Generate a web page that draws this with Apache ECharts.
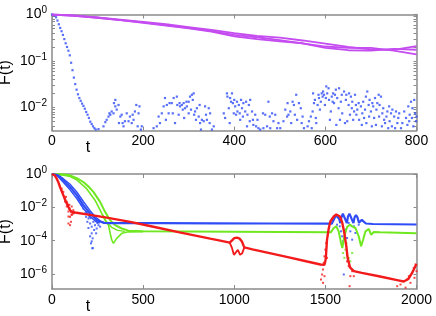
<!DOCTYPE html>
<html><head><meta charset="utf-8">
<script src="https://cdn.jsdelivr.net/npm/echarts@6/dist/echarts.min.js"></script>
<style>html,body{margin:0;padding:0;background:#fff}#c{width:436px;height:316px}</style>
</head><body><div id="c"></div>
<script>
// All values are log10 F(t).
// ---------- top panel ----------
const topXTicks = [0, 200, 400, 600, 800];
const topYTicks = [0, -1, -2];
const magT = [0, 50, 100, 150, 200, 250, 300, 350, 400, 450, 500, 550, 600, 650, 700, 750, 800];
const magA = [0, -0.02, -0.06, -0.11, -0.16, -0.21, -0.27, -0.33, -0.40, -0.46, -0.50, -0.56, -0.63, -0.70, -0.75, -0.76, -0.68];
const magB = [0, -0.03, -0.07, -0.12, -0.17, -0.23, -0.29, -0.36, -0.44, -0.49, -0.55, -0.62, -0.69, -0.72, -0.72, -0.78, -0.86];
const magC = [0, -0.03, -0.07, -0.12, -0.18, -0.24, -0.30, -0.37, -0.47, -0.53, -0.58, -0.62, -0.72, -0.77, -0.78, -0.74, -0.76];
const blueDecayTop = [[0,0],[3,-0.01],[6,-0.02],[9,-0.06],[12,-0.13],[15,-0.21],[18,-0.29],[21,-0.36],[24,-0.44],[27,-0.53],[30,-0.62],[33,-0.70],[36,-0.78],[39,-0.88],[42,-1.04],[45,-1.2],[48,-1.36],[51,-1.5],[54,-1.62],[57,-1.72],[60,-1.8],[63,-1.86],[66,-1.92],[69,-1.97],[72,-2.03],[75,-2.1],[78,-2.16],[81,-2.23],[84,-2.31],[87,-2.36],[90,-2.41],[93,-2.45],[96,-2.48]];
const blueNoiseTop = [[102,-2.47],[113,-2.41],[117,-2.32],[120,-2.27],[124,-2.2],[126,-2.13],[128,-2.16],[131,-2.09],[135,-2.13],[136,-1.91],[139,-1.84],[139,-1.98],[142,-2.05],[146,-1.95],[147,-2.34],[150,-2.2],[153,-2.16],[155,-2.34],[157,-2.41],[160,-2.3],[164,-2.13],[168,-2.3],[171,-2.2],[175,-2.34],[177,-2.16],[179,-2.27],[182,-2.09],[185,-1.95],[188,-2.41],[190,-2.13],[192,-1.98],[195,-2.48],[197,-2.41],[223,-2.45],[230,-2.41],[234,-2.2],[237,-2.34],[241,-2.13],[245,-1.98],[248,-1.8],[250,-2.27],[252,-1.95],[256,-2.13],[258,-1.91],
[263,-1.91],[265,-2.13],[267,-1.80],[270,-2.34],[274,-1.77],[275,-1.95],[278,-2.16],[280,-1.91],[281,-1.98],[285,-1.95],[287,-2.05],[289,-1.91],[290,-2.23],[292,-2.02],[295,-1.88],[296,-1.98],[300,-1.88],[300,-2.13],[303,-1.77],[305,-2.05],[307,-1.73],[309,-1.84],[311,-1.70],[312,-2.16],[314,-2.09],[316,-2.27],[318,-2.02],[322,-2.2],[324,-1.95],[325,-2.34],[327,-2.48],[329,-2.27],[333,-2.30],[336,-1.98],[338,-2.16],[340,-2.27],[344,-2.02],[346,-2.34],[347,-2.13],[351,-2.48],[355,-2.41],
[377,-2.13],[380,-2.23],[384,-1.70],[385,-1.77],[388,-2.02],[390,-2.34],[391,-1.80],[393,-1.88],[395,-1.70],[397,-1.91],[399,-2.13],[400,-1.84],[402,-1.98],[404,-2.16],[406,-1.88],[407,-2.09],[410,-1.95],[412,-2.13],[413,-2.27],[415,-1.84],[417,-2.02],[419,-2.2],[420,-1.91],[424,-2.09],[426,-1.88],[428,-2.41],[429,-2.16],[432,-1.95],[434,-2.30],[435,-1.84],[439,-2.09],[441,-2.27],[442,-2.38],[446,-2.16],[448,-2.41],[451,-2.27],[453,-2.45],[457,-2.48],[463,-2.13],[464,-2.45],[468,-2.16],[472,-2.41],[475,-1.88],[478,-2.2],[479,-2.45],[483,-2.13],[486,-2.30],[490,-2.16],[494,-2.45],[497,-2.34],[501,-2.45],[508,-2.30],[512,-2.05],[516,-2.2],[517,-1.91],[519,-2.16],[523,-2.09],[525,-2.34],
[528,-1.88],[531,-1.95],[533,-2.16],[536,-1.73],[538,-2.27],[542,-1.91],[546,-2.02],[548,-2.34],[550,-2.2],[553,-2.45],[561,-2.41],[564,-2.3],[568,-2.2],[570,-2.45],[572,-2.09],[573,-1.70],[575,-1.91],[577,-1.84],[579,-2.23],[580,-2.34],[583,-1.95],[585,-1.73],[586,-1.80],[588,-2.05],[590,-1.88],[592,-1.70],[594,-1.77],[595,-1.66],[597,-1.73],[599,-1.95],[601,-1.80],[602,-1.55],[604,-1.70],[607,-1.59],[608,-1.84],[610,-2.27],[612,-2.09],[614,-1.77],[616,-1.88],[617,-1.70],[619,-1.91],[621,-1.73],[623,-1.62],[624,-2.38],[626,-1.80],[629,-2.02],[630,-1.59],[632,-2.27],[634,-1.88],[636,-1.73],[637,-2.13],[641,-1.66],[643,-2.34],[645,-1.84],[646,-1.73],[648,-2.30],[651,-1.95],[652,-1.70],[654,-2.16],[656,-1.77],[658,-2.02],[659,-1.88],[661,-2.27],[663,-2.09],[665,-1.73],[667,-1.95],[668,-2.16],[670,-2.05],[673,-1.91],[674,-2.27],[678,-1.98],[680,-2.38],[681,-2.13],[683,-1.88],[685,-2.23],[687,-2.05],[689,-1.77],[690,-2.34],[692,-1.66],[695,-1.95],[696,-2.2],[697,-1.84],[700,-2.09],[702,-2.41],[703,-1.91],[705,-1.98],[707,-2.23],[709,-1.80],[711,-2.38],[712,-2.05],[714,-1.91],[717,-1.73],[718,-2.2],[719,-1.95],[722,-1.77],[724,-2.41],[725,-2.13],[727,-2.02],[729,-2.27],[731,-2.34],[734,-2.2],[736,-2.09],[738,-2.45],[740,-1.98],[741,-2.30],[744,-2.13],[746,-2.41],[747,-2.05],[751,-2.2],[753,-2.45],[755,-2.09],[758,-2.34],[760,-2.23],[762,-2.13],[766,-2.45],[769,-2.34],[773,-2.09],[777,-2.23],[780,-2.38],[782,-1.98],[784,-2.30],[785,-2.16],[788,-1.88],[790,-2.23],[791,-2.02],[793,-2.41],[795,-1.84],[797,-2.13],[799,-2.30],[800,-2.2]];

// ---------- bottom panel ----------
const botXTicks = [0, 500, 1000, 1500, 2000];
const botYTicks = [0, -2, -4, -6];
const blueMain = [[0,0],[30,-0.08],[62,-0.38],[99,-0.78],[136,-1.27],[172,-1.87],[209,-2.37],[245,-2.77],[282,-2.93],[320,-2.95],[600,-2.95],[900,-2.96],[1200,-2.97],[1535,-2.98],[1548,-2.7],[1558,-2.48],[1566,-2.48],[1576,-2.7],[1582,-2.95],[1588,-2.6],[1596,-2.38],[1604,-2.45],[1612,-2.8],[1618,-2.95],[1624,-2.55],[1632,-2.38],[1640,-2.45],[1648,-2.8],[1654,-2.95],[1660,-2.6],[1668,-2.47],[1676,-2.6],[1684,-2.92],[1690,-2.8],[1700,-2.75],[1710,-2.82],[1722,-2.97],[1760,-3.0],[2000,-3.03]];
const blueEdgeHi = [[0,0],[30,-0.04],[62,-0.28],[99,-0.62],[136,-1.08],[172,-1.65],[209,-2.2],[245,-2.65],[270,-2.85],[295,-2.94]];
const blueEdgeLo = [[0,0],[30,-0.12],[62,-0.5],[99,-0.95],[136,-1.47],[172,-2.07],[209,-2.55],[240,-2.85],[262,-2.95]];
const blueDots = [[154,-1.57],[163,-1.87],[172,-2.07],[181,-2.37],[187,-2.57],[190,-2.27],[194,-2.87],[200,-2.67],[205,-2.57],[209,-2.97],[212,-2.65],[214,-4.16],[218,-3.16],[218,-3.56],[222,-4.46],[223,-3.86],[227,-2.87],[231,-3.36],[236,-3.07],[242,-3.56],[245,-3.27],[249,-2.94],[255,-3.07],[264,-3.16],[200,-3.24],[209,-3.74],[218,-4.04],[223,-4.44],
[1564,-3.04],[1579,-3.14],[1586,-3.44],[1592,-3.74],[1597,-4.04],[1601,-6.03],[1610,-3.34],[1619,-3.84],[1628,-2.94],[1637,-3.44],[1647,-3.94],[1656,-3.14],[1665,-3.54],[1683,-3.04]];
const greenMain = [[0,0],[50,-0.02],[99,-0.08],[136,-0.25],[172,-0.48],[200,-0.75],[227,-1.07],[264,-1.67],[291,-2.27],[319,-2.77],[346,-3.07],[383,-3.27],[420,-3.4],[500,-3.44],[1000,-3.47],[1530,-3.5],[1546,-3.24],[1560,-3.14],[1573,-3.44],[1586,-4.14],[1593,-4.44],[1604,-3.74],[1619,-3.18],[1634,-3.04],[1647,-3.14],[1665,-3.24],[1683,-3.74],[1696,-4.34],[1707,-3.94],[1720,-3.44],[1738,-3.3],[1751,-3.64],[1766,-3.48],[1800,-3.5],[2000,-3.55]];
const greenLow = [[0,0],[50,-0.05],[99,-0.15],[136,-0.35],[190,-0.88],[236,-1.57],[264,-2.17],[291,-2.77],[310,-3.07],[320,-3.6],[328,-3.96],[337,-4.16],[346,-4.05],[355,-3.86],[383,-3.56],[420,-3.47],[500,-3.46]];
const greenMid = [[280,-2.45],[295,-2.8],[310,-3.0],[330,-3.22],[360,-3.38],[400,-3.44]];
const greenDots = [[1597,-4.74],[1604,-5.03],[1610,-4.54],[1615,-4.14],[1619,-4.84],[1628,-5.03],[1637,-5.24],[1647,-4.74]];
const redMain = [[0,0],[15,-0.08],[26,-0.28],[35,-0.5],[44,-0.78],[53,-1.02],[62,-1.27],[71,-1.52],[81,-1.77],[90,-1.98],[99,-2.17],[110,-2.27],[126,-2.31],[209,-2.45],[300,-2.62],[429,-2.87],[550,-3.15],[700,-3.5],[868,-3.88],[923,-4.0],[975,-4.12],[988,-3.98],[1000,-3.85],[1015,-3.82],[1030,-3.88],[1042,-4.05],[1055,-4.4],[1100,-4.52],[1200,-4.76],[1300,-5.0],[1400,-5.25],[1473,-5.43],[1495,-5.45],[1502,-5.1],[1509,-3.94],[1518,-3.3],[1527,-2.85],[1546,-2.55],[1560,-2.43],[1568,-2.43],[1580,-2.55],[1592,-2.9],[1604,-3.54],[1615,-4.34],[1622,-5.03],[1635,-5.6],[1656,-5.83],[1700,-5.93],[1800,-6.15],[1900,-6.38],[1930,-6.45],[1955,-6.3],[1975,-5.95],[2000,-5.4]];
const redBubbleLow = [[975,-4.12],[988,-4.45],[998,-4.85],[1008,-4.75],[1020,-4.55],[1032,-4.85],[1044,-4.75],[1055,-4.4]];
const redDots = [[53,-0.88],[62,-1.07],[71,-1.47],[77,-1.37],[81,-1.67],[84,-1.77],[90,-1.87],[95,-2.07],[103,-2.27],[108,-2.43],[117,-2.17],[99,-2.57],[90,-2.97],[99,-3.07],[104,-2.87],[114,-2.37],[71,-1.65],[81,-1.95],[90,-2.25],[95,-1.85],[108,-1.95],[121,-2.35],[108,-2.45],[90,-2.55],
[1476,-6.33],[1482,-6.03],[1487,-5.73],[1491,-5.33],[1495,-4.94],[1500,-4.54],[1505,-4.14],[1495,-6.13],[1487,-6.53],[1509,-5.03],[1619,-5.24],[1628,-5.53],[1637,-6.13],[1633,-6.73],[1647,-5.83],[1656,-6.13],
[1894,-6.73],[1912,-6.63],[1930,-6.43],[1940,-6.82],[1949,-6.33],[1958,-6.13],[1967,-6.53],[1976,-5.93],[1985,-5.63],[1989,-6.23],[1995,-5.43],[2000,-5.83]];

const FONT = '"Liberation Sans", Arial, sans-serif';
const AX = '#8a8a8a';
const C_BLUE = '#2f4cf6', C_GREEN = '#6fe81f', C_RED = '#f21a1a', C_MAG = '#c44cf0';

function withMinor(major, minExp, maxExp) {
  const out = major.slice();
  for (let k = Math.floor(minExp); k < maxExp; k++)
    for (let m = 2; m <= 9; m++) { const v = k + Math.log10(m); if (v >= minExp && v <= maxExp) out.push(v); }
  return out;
}
function expLabel(v) {
  const n = Math.round(v);
  return '{b|10}{s|' + (n === 0 ? '0' : '\u2212' + Math.abs(n)) + '}';
}
const rich = {
  b: { fontSize: 14, fontFamily: FONT, color: '#000', lineHeight: 18 },
  s: { fontSize: 10, fontFamily: FONT, color: '#000', verticalAlign: 'top', lineHeight: 10 }
};
function xAx(grid, pos, max, interval, ticks, label) {
  return {
    type: 'value', gridIndex: grid, position: pos, min: 0, max: max, interval: interval,
    axisLine: { show: true, onZero: false, lineStyle: { color: AX, width: 1.5 } },
    axisTick: { show: true, inside: true, length: 4, customValues: ticks, lineStyle: { color: AX, width: 1 } },
    axisLabel: { show: label, customValues: ticks, margin: 4, fontSize: 14, fontFamily: FONT, color: '#000',
      formatter: v => String(v) },
    splitLine: { show: false }
  };
}
function yAx(grid, pos, min, ticks, labels, label, name) {
  const a = {
    type: 'value', gridIndex: grid, position: pos, min: min, max: 0,
    axisLine: { show: true, onZero: false, lineStyle: { color: AX, width: 1.5 } },
    axisTick: { show: true, inside: true, length: 3, customValues: ticks, lineStyle: { color: AX, width: 1 } },
    axisLabel: { show: label, customValues: labels, margin: 5, formatter: expLabel, rich: rich },
    splitLine: { show: false }
  };
  if (name) {
    a.name = name; a.nameLocation = 'middle'; a.nameGap = 38; a.nameMoveOverlap = false;
    a.nameTextStyle = { fontSize: 16, fontFamily: FONT, color: '#000' };
  }
  return a;
}
function line(xi, yi, data, color, w) {
  return { type: 'line', xAxisIndex: xi, yAxisIndex: yi, data: data, showSymbol: false, symbol: 'none',
    lineStyle: { color: color, width: w }, itemStyle: { color: color }, clip: true, silent: true };
}
function dots(xi, yi, data, color, size) {
  return { type: 'scatter', xAxisIndex: xi, yAxisIndex: yi, data: data, symbol: 'rect', symbolSize: size,
    itemStyle: { color: color }, clip: true, silent: true };
}

const topMin = -2.5, botMin = -6.9;
const topTicks = withMinor(topYTicks, topMin, 0);
const option = {
  animation: false,
  backgroundColor: '#fff',
  grid: [
    { left: 52, top: 14.5, width: 364.5, height: 116, outerBoundsMode: 'none' },
    { left: 52, top: 174, width: 364.5, height: 115, outerBoundsMode: 'none' }
  ],
  xAxis: [
    xAx(0, 'bottom', 800, 200, topXTicks, true),
    xAx(0, 'top', 800, 200, topXTicks, false),
    xAx(1, 'bottom', 2000, 500, botXTicks, true),
    xAx(1, 'top', 2000, 500, botXTicks, false)
  ],
  yAxis: [
    yAx(0, 'left', topMin, topTicks, topYTicks, true, 'F(t)'),
    yAx(0, 'right', topMin, topTicks, topYTicks, false),
    yAx(1, 'left', botMin, botYTicks, botYTicks, true, 'F(t)'),
    yAx(1, 'right', botMin, botYTicks, botYTicks, false)
  ],
  graphic: [
    { type: 'text', x: 88, y: 148, style: { text: 't', fontSize: 16, fontFamily: FONT, fill: '#000', align: 'center', verticalAlign: 'middle' } },
    { type: 'text', x: 88, y: 307, style: { text: 't', fontSize: 16, fontFamily: FONT, fill: '#000', align: 'center', verticalAlign: 'middle' } }
  ],
  series: [
    dots(0, 0, blueDecayTop, C_BLUE, 2.2),
    dots(0, 0, blueNoiseTop, C_BLUE, 2.2),
    line(0, 0, magT.map((t, i) => [t, magA[i]]), C_MAG, 1.8),
    line(0, 0, magT.map((t, i) => [t, magB[i]]), C_MAG, 1.8),
    line(0, 0, magT.map((t, i) => [t, magC[i]]), C_MAG, 1.8),
    line(2, 2, greenLow, C_GREEN, 1.6),
    line(2, 2, greenMid, C_GREEN, 1.4),
    line(2, 2, greenMain, C_GREEN, 2),
    dots(2, 2, greenDots, C_GREEN, 2),
    line(2, 2, blueEdgeHi, C_BLUE, 1.4),
    line(2, 2, blueEdgeLo, C_BLUE, 1.4),
    line(2, 2, blueMain, C_BLUE, 2.2),
    dots(2, 2, blueDots, C_BLUE, 2),
    line(2, 2, redBubbleLow, C_RED, 1.8),
    line(2, 2, redMain, C_RED, 2.4),
    dots(2, 2, redDots, C_RED, 2)
  ]
};
const chart = echarts.init(document.getElementById('c'), null, { renderer: 'canvas' });
chart.setOption(option);
</script>
</body></html>
